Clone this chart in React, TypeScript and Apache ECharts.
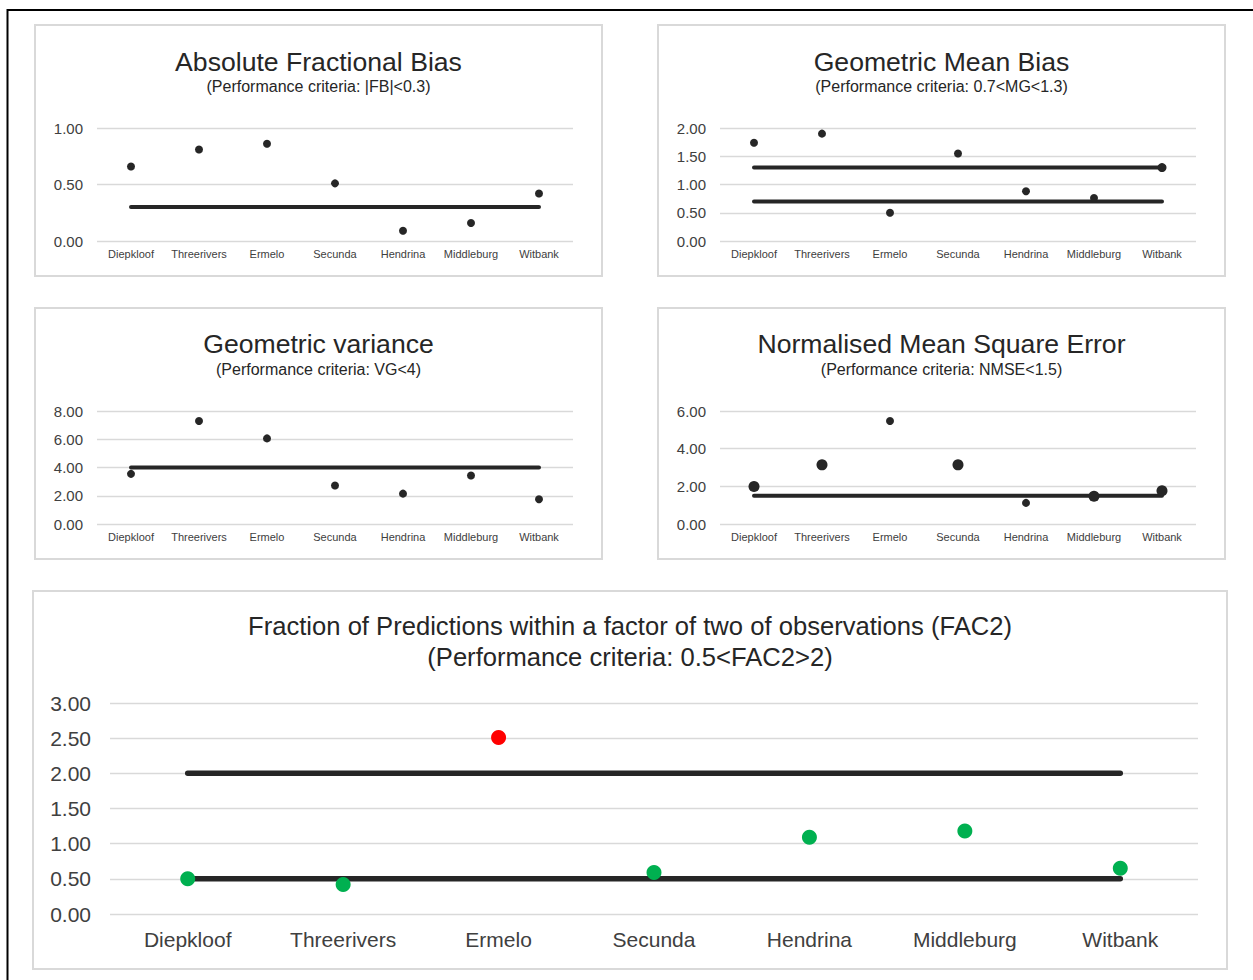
import React, { useEffect, useRef } from 'react';
import * as echarts from 'echarts';

const categories = ['Diepkloof', 'Threerivers', 'Ermelo', 'Secunda', 'Hendrina', 'Middleburg', 'Witbank'];

const fbValues = [0.66, 0.81, 0.86, 0.51, 0.09, 0.16, 0.42];
const fbLimits = [0.3];

const mgValues = [1.74, 1.9, 0.5, 1.55, 0.88, 0.76, 1.3];
const mgLimits = [1.3, 0.7];

const vgValues = [3.55, 7.29, 6.06, 2.72, 2.15, 3.43, 1.75];
const vgLimits = [4];

const nmseValues = [1.99, 3.14, 5.47, 3.14, 1.12, 1.47, 1.77];
const nmseLimits = [1.5];

const fac2Values = [0.5, 0.42, 2.51, 0.59, 1.09, 1.18, 0.65];
const fac2Limits = [2, 0.5];
const fac2Upper = 2;

const titleTexts = [
  'Absolute Fractional Bias',
  'Geometric Mean Bias',
  'Geometric variance',
  'Normalised Mean Square Error',
  'Fraction of Predictions within a factor of two of observations (FAC2)',
];
const subtitleTexts = [
  '(Performance criteria: |FB|<0.3)',
  '(Performance criteria: 0.7<MG<1.3)',
  '(Performance criteria: VG<4)',
  '(Performance criteria: NMSE<1.5)',
  '(Performance criteria: 0.5<FAC2>2)',
];
const yMax = [1, 2, 8, 6, 3];
const yInterval = [0.5, 0.5, 2, 2, 0.5];

const FONT = '"Liberation Sans", Arial, sans-serif';
const DARK = '#262626';
const LABEL = '#404040';
const GRIDLINE = '#d9d9d9';

// layout / style per panel
const panels = [
  { box: [35, 25, 567, 251], grid: [97, 128, 476, 113], titleY: 62, subY: 86, titleSize: 26.6, subSize: 16, ySize: 15, xSize: 11, yMargin: 14, xMargin: 7, lineW: 4, dot: [8, 8, 8, 8, 8, 8, 8] },
  { box: [658, 25, 567, 251], grid: [720, 128, 476, 113], titleY: 62, subY: 86, titleSize: 26.6, subSize: 16, ySize: 15, xSize: 11, yMargin: 14, xMargin: 7, lineW: 4, dot: [8, 8, 8, 8, 8, 8, 9] },
  { box: [35, 308, 567, 251], grid: [97, 411, 476, 113], titleY: 344, subY: 369, titleSize: 26.6, subSize: 16, ySize: 15, xSize: 11, yMargin: 14, xMargin: 7, lineW: 4, dot: [8, 8, 8, 8, 8, 8, 8] },
  { box: [658, 308, 567, 251], grid: [720, 411, 476, 113], titleY: 344, subY: 369, titleSize: 26.6, subSize: 16, ySize: 15, xSize: 11, yMargin: 14, xMargin: 7, lineW: 4, dot: [11, 11, 8, 11, 8, 11, 11] },
  { box: [33, 591, 1194, 378], grid: [110, 703, 1088, 211], titleY: 626, subY: 657, titleSize: 25.6, subSize: 25.6, ySize: 21, xSize: 21, yMargin: 19, xMargin: 15, lineW: 5.5, dot: [15, 15, 15, 15, 15, 15, 15] },
];

const valueSets = [fbValues, mgValues, vgValues, nmseValues, fac2Values];
const limitSets = [fbLimits, mgLimits, vgLimits, nmseLimits, fac2Limits];

export default function App() {
  const ref = useRef<HTMLDivElement>(null);

  useEffect(() => {
    if (!ref.current) return;
    const chart = echarts.init(ref.current, undefined, { renderer: 'svg' });

    const grids: any[] = [];
    const xAxes: any[] = [];
    const yAxes: any[] = [];
    const series: any[] = [];
    const graphics: any[] = [];

    graphics.push({
      type: 'rect',
      shape: { x: 7.5, y: 10, width: 1400, height: 1100 },
      style: { fill: 'none', stroke: '#000', lineWidth: 2 },
      z: 0,
    });

    panels.forEach((p, i) => {
      graphics.push({
        type: 'rect',
        shape: { x: p.box[0], y: p.box[1], width: p.box[2], height: p.box[3] },
        style: { fill: '#fff', stroke: GRIDLINE, lineWidth: 2 },
        z: 0,
      });
      const cx = p.box[0] + p.box[2] / 2;
      graphics.push({
        type: 'text',
        x: cx,
        y: p.titleY,
        style: {
          text: titleTexts[i],
          font: `${p.titleSize}px ${FONT}`,
          fill: DARK,
          textAlign: 'center',
          textVerticalAlign: 'middle',
        },
        z: 10,
      });
      graphics.push({
        type: 'text',
        x: cx,
        y: p.subY,
        style: {
          text: subtitleTexts[i],
          font: `${p.subSize}px ${FONT}`,
          fill: DARK,
          textAlign: 'center',
          textVerticalAlign: 'middle',
        },
        z: 10,
      });

      grids.push({ left: p.grid[0], top: p.grid[1], width: p.grid[2], height: p.grid[3], containLabel: false });
      xAxes.push({
        type: 'category',
        gridIndex: i,
        data: categories,
        boundaryGap: true,
        axisLine: { show: false },
        axisTick: { show: false },
        splitLine: { show: false },
        axisLabel: { interval: 0, fontSize: p.xSize, color: LABEL, fontFamily: FONT, margin: p.xMargin },
      });
      yAxes.push({
        type: 'value',
        gridIndex: i,
        min: 0,
        max: yMax[i],
        interval: yInterval[i],
        axisLine: { show: false },
        axisTick: { show: false },
        splitLine: { show: true, lineStyle: { color: GRIDLINE, width: 1.3 } },
        axisLabel: {
          fontSize: p.ySize,
          color: LABEL,
          fontFamily: FONT,
          margin: p.yMargin,
          formatter: (v: number) => v.toFixed(2),
        },
      });

      limitSets[i].forEach((lim) => {
        series.push({
          type: 'line',
          xAxisIndex: i,
          yAxisIndex: i,
          data: categories.map(() => lim),
          symbol: 'none',
          showSymbol: false,
          silent: true,
          lineStyle: { color: DARK, width: p.lineW, cap: 'round' },
          z: 2,
        });
      });

      series.push({
        type: 'scatter',
        xAxisIndex: i,
        yAxisIndex: i,
        data: valueSets[i],
        symbol: 'circle',
        symbolSize: (_v: any, params: any) => p.dot[params.dataIndex],
        silent: true,
        itemStyle: {
          opacity: 1,
          color:
            i === 4
              ? (params: any) => (params.value > fac2Upper ? '#ff0000' : '#00b050')
              : DARK,
        },
        z: 3,
      });
    });

    chart.setOption({
      animation: false,
      backgroundColor: '#fff',
      textStyle: { fontFamily: FONT },
      grid: grids,
      xAxis: xAxes,
      yAxis: yAxes,
      series,
      graphic: { elements: graphics },
    });

    return () => chart.dispose();
  }, []);

  return (
    <div
      ref={ref}
      style={{ position: 'absolute', left: 0, top: 0, width: 1253, height: 980, background: '#fff' }}
    />
  );
}
